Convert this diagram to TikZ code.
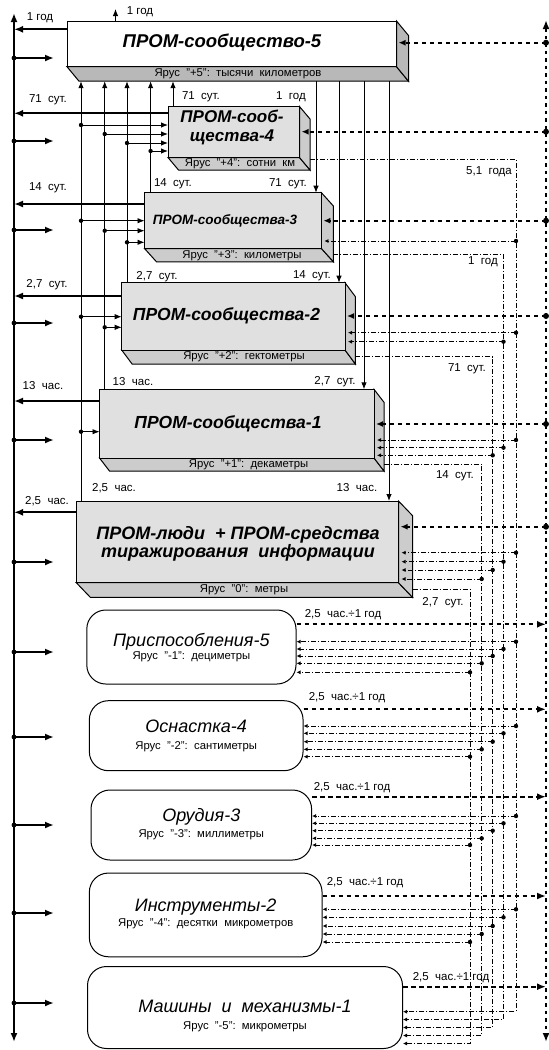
\documentclass[tikz,border=0pt]{standalone}
\usepackage{fontspec}
\setmainfont{Liberation Sans}
\usetikzlibrary{arrows.meta,calc}
\newcommand\mycube[9]{%
  \coordinate (#1-nw) at (#2,#3);
  \coordinate (#1-ne) at (#4,#3);
  \coordinate (#1-sw) at (#2,#5);
  \coordinate (#1-se) at (#4,#5);
  \coordinate (#1-x) at ({#4+#6},#3);
  \coordinate (#1-b) at (#2,{#5+#7});
  \filldraw[boxline, fill=#9] (#1-sw) -- (#1-se) -- ++(#6,#7) -- ({#2+#6},{#5+#7}) -- cycle;
  \filldraw[boxline, fill=#9] (#1-ne) -- ++(#6,#7) -- ({#4+#6},{#5+#7}) -- (#1-se) -- cycle;
  \filldraw[boxline, fill=#8] (#1-nw) rectangle (#1-se);
}
\newcommand\tsp{\ \ }
\begin{document}
\begin{tikzpicture}[x=1pt,y=-1pt,
  boxline/.style={line width=1pt},
  axisline/.style={line width=2pt},
  big/.style={-{Latex[length=9pt,width=7pt]}, line width=2pt},
  thinline/.style={line width=0.9pt},
  thinarr/.style={line width=0.9pt, -{Latex[length=7pt,width=5.5pt]}},
  ddash/.style={line width=1.9pt, dash pattern=on 4.5pt off 3.5pt},
  dddot/.style={line width=2.8pt, dash pattern=on 3.5pt off 4pt},
  dashdot/.style={line width=0.8pt, dash pattern=on 5pt off 2pt on 1pt off 2pt},
  smallhead/.style={-{Latex[length=4pt,width=4pt]}},
  lab/.style={font=\fontsize{11.5}{12}\selectfont, inner sep=0pt},
  tier/.style={font=\fontsize{11.3}{12}\selectfont, inner sep=0pt},
  ttl/.style={font=\bfseries\itshape, inner sep=0pt, align=center},
  rttl/.style={font=\itshape\fontsize{18}{20}\selectfont, inner sep=0pt},
  rbox/.style={draw, line width=1pt, rounded corners=19pt, inner sep=0pt},
]
\useasboundingbox (0,0) rectangle (549,1050);

% ---------- axes
\coordinate (LAtop) at (14,13);
\coordinate (LAbot) at (14,1042);
\draw[axisline, {Latex[length=9pt,width=7pt]}-{Latex[length=9pt,width=7pt]}] (LAtop) -- (LAbot);
\coordinate (RAtop) at (546,20);
\coordinate (RAbot) at (546,1042);
\draw[dddot, {Latex[length=9pt,width=7pt]}-{Latex[length=9pt,width=7pt]}] (RAtop) -- (RAbot);

% ---------- 3D boxes
\mycube{B5}{67}{21}{396.5}{66.7}{12}{14.5}{white}{black!28}
\mycube{B4}{168}{106.5}{299.5}{157.5}{10.5}{12.5}{black!12}{black!20}
\mycube{B3}{144.5}{192.7}{321.4}{248.5}{12}{13.3}{black!12}{black!20}
\mycube{B2}{121.7}{282.7}{345}{350}{10.4}{14}{black!12}{black!20}
\mycube{B1}{99.5}{389.3}{374}{458}{10}{13}{black!12}{black!20}
\mycube{B0}{76.3}{501}{398.5}{582.7}{14}{14.6}{black!12}{black!20}

\node[ttl, font=\bfseries\itshape\fontsize{18.5}{20}\selectfont] (T5) at (222,42.7) {ПРОМ-сообщество-5};
\node[ttl, font=\bfseries\itshape\fontsize{17}{19}\selectfont] (T4) at (232,127) {ПРОМ-сооб-\\щества-4};
\node[ttl, font=\bfseries\itshape\fontsize{13.5}{15}\selectfont] (T3) at (225,220.7) {ПРОМ-сообщества-3};
\node[ttl, font=\bfseries\itshape\fontsize{17.5}{19}\selectfont] (T2) at (226.5,316) {ПРОМ-сообщества-2};
\node[ttl, font=\bfseries\itshape\fontsize{17.5}{19}\selectfont] (T1) at (228,424) {ПРОМ-сообщества-1};
\node[ttl, font=\bfseries\itshape\fontsize{18}{18.5}\selectfont] (T0) at (238,544) {ПРОМ-люди\tsp+ ПРОМ-средства\\тиражирования\tsp информации};

\node[tier] (Y5) at (238,74) {Ярус\tsp"+5":\tsp тысячи\tsp километров};
\node[tier] (Y4) at (240,164) {Ярус\tsp"+4":\tsp сотни\tsp км};
\node[tier] (Y3) at (242,255.5) {Ярус\tsp"+3":\tsp километры};
\node[tier] (Y2) at (244,357) {Ярус\tsp"+2":\tsp гектометры};
\node[tier] (Y1) at (248.6,465) {Ярус\tsp"+1":\tsp декаметры};
\node[tier] (Y0) at (244,590) {Ярус\tsp"0":\tsp метры};

% ---------- rounded boxes
\node[rbox, minimum width=209.2pt, minimum height=74pt] (R5) at (191.4,647) {};
\node[rbox, minimum width=213.7pt, minimum height=70pt] (R4) at (196.2,735.7) {};
\node[rbox, minimum width=220.6pt, minimum height=70pt] (R3) at (201.3,825) {};
\node[rbox, minimum width=232.7pt, minimum height=83.7pt] (R2) at (205.7,914.9) {};
\node[rbox, minimum width=315pt, minimum height=82pt] (R1) at (245,1007.5) {};

\node[rttl] (RT5) at (191.4,641.7) {Приспособления-5};
\node[tier] (RY5) at (191.4,657) {Ярус\tsp"-1":\tsp дециметры};
\node[rttl] (RT4) at (196.2,726.7) {Оснастка-4};
\node[tier] (RY4) at (196.2,746.7) {Ярус\tsp"-2":\tsp сантиметры};
\node[rttl] (RT3) at (201.3,816.7) {Орудия-3};
\node[tier] (RY3) at (201.3,835) {Ярус\tsp"-3":\tsp миллиметры};
\node[rttl] (RT2) at (205.7,906.7) {Инструменты-2};
\node[tier] (RY2) at (205.7,924) {Ярус\tsp"-4":\tsp десятки\tsp микрометров};
\node[rttl] (RT1) at (245,1006.7) {Машины\tsp и\tsp механизмы-1};
\node[tier] (RY1) at (245,1026.7) {Ярус\tsp"-5":\tsp микрометры};

% ---------- left thick arrows (boxes -> axis)
\foreach \b/\y in {B5/29.3,B4/113.3,B3/204,B2/296,B1/401,B0/512.3}
  \draw[big] (\b-nw |- 0,\y) -- (LAtop |- 0,\y);
% ---------- short arrows from axis
\foreach \y in {58,141,230,323,440,562,652,737,825,913,1003}{
  \coordinate (la\y) at (LAtop |- 0,\y);
  \coordinate (lb\y) at (54,\y);
  \fill (la\y) circle (2.4pt);
  \draw[big] (la\y) -- (lb\y);
}
% ---------- top arrow
\coordinate (top5) at (115.5,9);
\draw[thinarr] (B5-nw -| top5) -- (top5);

% ---------- up arrows into B5
\foreach \x/\b in {81/B0,104.7/B1,127/B2,150.6/B3,173/B4}
  \draw[thinarr] (\x,0 |- \b-nw) -- (\x,0 |- B5-b);
% ---------- branches to left sides
\foreach \x/\y/\b in {81/125/B4,104.7/134/B4,127/143/B4,150.6/151/B4,
                      81/220.7/B3,104.7/230.7/B3,127/242.3/B3,
                      81/316.7/B2,104.7/327.3/B2,
                      81/431.7/B1}{
  \fill (\x,\y) circle (2.2pt);
  \draw[thinarr] (\x,\y) -- (\b-nw |- 0,\y);
}
% ---------- down arrows from B5
\foreach \x/\b in {316/B3,339/B2,364/B1,389/B0}
  \draw[thinarr] (\x,0 |- B5-b) -- (\x,0 |- \b-nw);

% ---------- right dashed arrows into boxes
\foreach \b/\y in {B5/42.7,B4/131.7,B3/220.7,B2/316,B1/424,B0/526.7}{
  \fill (RAtop |- 0,\y) circle (3pt);
  \draw[ddash, -{Latex[length=7pt,width=6pt]}] (RAtop |- 0,\y) -- ($(\b-ne |- 0,\y)+(2,0)$);
}
% ---------- dashed arrows out of rounded boxes
\foreach \r/\y in {R5/624.3,R4/709.3,R3/796.7,R2/896,R1/986.7}
  \draw[ddash, -{Latex[length=9pt,width=7pt]}] (\r.east |- 0,\y) -- (RAtop |- 0,\y);

% ---------- dash-dot network
\coordinate (D1) at (516,0);
\coordinate (D2) at (503.5,0);
\coordinate (D3) at (492.7,0);
\coordinate (D4) at (481.7,0);
\coordinate (D5) at (470,0);
\draw[dashdot, smallhead] (B4-x |- 0,159.3) -| (D1 |- 0,1011.7) -- (R1.east |- 0,1011.7);
\draw[dashdot, smallhead] (B3-x |- 0,254) -| (D2 |- 0,1019.5) -- (R1.east |- 0,1019.5);
\draw[dashdot, smallhead] (B2-x |- 0,356.7) -| (D3 |- 0,1027.5) -- (R1.east |- 0,1027.5);
\draw[dashdot, smallhead] (B1-x |- 0,464) -| (D4 |- 0,1035.5) -- (R1.east |- 0,1035.5);
\draw[dashdot, smallhead] (B0-x |- 0,589.3) -| (D5 |- 0,1043.5) -- (R1.east |- 0,1043.5);

\foreach \d/\y/\b in {D1/241/B3,
                      D1/332.7/B2,D2/341.7/B2,
                      D1/440/B1,D2/447.7/B1,D3/455.3/B1,
                      D1/552.7/B0,D2/561.7/B0,D3/570/B0,D4/579/B0}{
  \fill (\d |- 0,\y) circle (2.2pt);
  \draw[dashdot, smallhead] (\d |- 0,\y) -- ($(\b-ne |- 0,\y)+(3,0)$);
}
\foreach \d/\y/\r in {D1/641.7/R5,D2/649/R5,D3/656/R5,D4/663.3/R5,D5/672.3/R5,
                      D1/726/R4,D2/733.3/R4,D3/741.7/R4,D4/749.3/R4,D5/756.7/R4,
                      D1/816/R3,D2/823.3/R3,D3/830.7/R3,D4/838.3/R3,D5/845/R3,
                      D1/909.3/R2,D2/917.3/R2,D3/926/R2,D4/934/R2,D5/942/R2}{
  \fill (\d |- 0,\y) circle (2.2pt);
  \draw[dashdot, smallhead] (\d |- 0,\y) -- (\r.east |- 0,\y);
}

% ---------- labels
\node[lab] (l1) at (40,18) {1 год};
\node[lab] (l2) at (48,100) {71\tsp сут.};
\node[lab] (l3) at (48,188) {14\tsp сут.};
\node[lab] (l4) at (47,285) {2,7\tsp сут.};
\node[lab] (l5) at (43,386) {13\tsp час.};
\node[lab] (l6) at (47,501) {2,5\tsp час.};
\node[lab] (l7) at (140,11.7) {1 год};
\node[lab] (l8) at (201,97) {71\tsp сут.};
\node[lab] (l9) at (173,184) {14\tsp сут.};
\node[lab] (l10) at (157,277) {2,7\tsp сут.};
\node[lab] (l11) at (133,382) {13\tsp час.};
\node[lab] (l12) at (114,488) {2,5\tsp час.};
\node[lab] (l13) at (291,97) {1\tsp год};
\node[lab] (l14) at (288,184) {71\tsp сут.};
\node[lab] (l15) at (312,276) {14\tsp сут.};
\node[lab] (l16) at (335,382) {2,7\tsp сут.};
\node[lab] (l17) at (357,488) {13\tsp час.};
\node[lab] (l18) at (489,172) {5,1\tsp года};
\node[lab] (l19) at (483,262) {1\tsp год};
\node[lab] (l20) at (467,369) {71\tsp сут.};
\node[lab] (l21) at (455,476) {14\tsp сут.};
\node[lab] (l22) at (443,603) {2,7\tsp сут.};
\node[lab] (l23) at (343,615) {2,5\tsp час.÷1 год};
\node[lab] (l24) at (347,698) {2,5\tsp час.÷1 год};
\node[lab] (l25) at (352,788) {2,5\tsp час.÷1 год};
\node[lab] (l26) at (365,883) {2,5\tsp час.÷1 год};
\node[lab] (l27) at (451,978) {2,5\tsp час.÷1 год};
\end{tikzpicture}
\end{document}
